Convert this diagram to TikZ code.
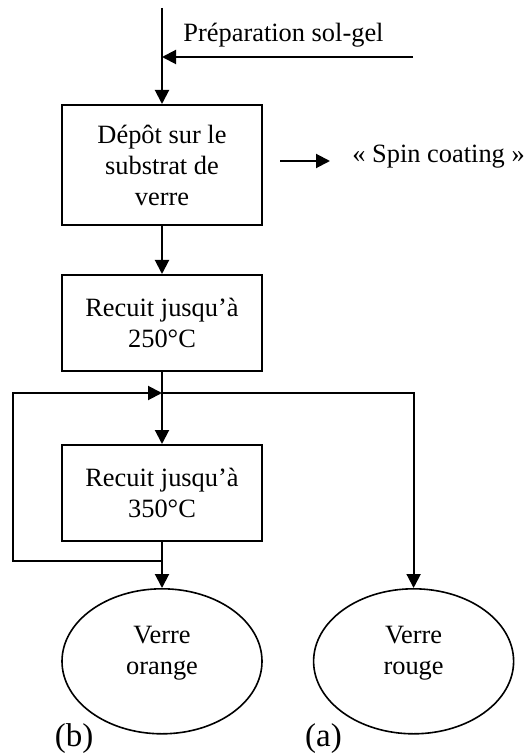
\documentclass[tikz,border=0pt]{standalone}
\usepackage{fontspec}
\setmainfont{Liberation Serif}
\usepackage{tikz}
\usetikzlibrary{arrows.meta,positioning,shapes.geometric}
\tikzset{
  fc box/.style={
    rectangle,
    minimum width=100pt,
    minimum height=48pt,
    line width=1pt,
    draw=black,
    align=center,
    inner sep=2pt,
    font=\fontsize{13.2}{15.5}\selectfont,
  },
  fc end/.style={
    ellipse,
    minimum width=100pt,
    minimum height=72.5pt,
    inner sep=0pt,
    line width=0.8pt,
    draw=black,
    align=center,
    font=\fontsize{13.2}{15.5}\selectfont,
  },
  fc text/.style={inner sep=0pt, font=\fontsize{13.2}{15.5}\selectfont},
  fc tag/.style={inner sep=0pt, anchor=base, font=\fontsize{16.5}{19}\selectfont},
  fc arrow/.style={-{Triangle[length=7pt,width=7pt]}, line width=1pt},
  fc line/.style={line width=1pt},
}
\begin{document}
\begin{tikzpicture}[x=0.5pt,y=-0.5pt,node distance=24pt and 25pt]
  \useasboundingbox (0,0) rectangle (526,753);
  \node[fc box,minimum height=60pt] (depot) at (162,165) {Dépôt sur le\\substrat de\\verre};
  \node[fc box,below=24pt of depot] (recuit1) {Recuit jusqu’à\\250°C};
  \node[fc box,below=36pt of recuit1] (recuit2) {Recuit jusqu’à\\350°C};
  \node[fc end,below=23pt of recuit2] (orange) {Verre\\orange\\[-4.5pt]\mbox{}};
  \node[fc end,right=25pt of orange] (rouge) {Verre\\rouge\\[-4.5pt]\mbox{}};

  \node[fc text,anchor=base west] (solgel) at (183,42) {Préparation sol-gel};
  \node[fc text,anchor=base west] (spin) at (352,163) {«~Spin coating~»};
  \node[fc tag] (tagb) at (74,746) {(b)};
  \node[fc tag] (taga) at (323.5,746) {(a)};

  \coordinate (top) at (162,8);
  \coordinate (solgel in) at (413,57);
  \coordinate (spin a) at (280,161);
  \coordinate (spin b) at (330,161);
  \coordinate (split) at (162,393);
  \coordinate (back) at (162,561);
  \coordinate (back left) at (13,561);

  \draw[fc arrow] (top) -- (depot);
  \draw[fc arrow] (solgel in) -- (solgel in -| depot);
  \draw[fc arrow] (spin a) -- (spin b);
  \draw[fc arrow] (depot) -- (recuit1);
  \draw[fc line] (recuit1) -- (split);
  \draw[fc arrow] (split) -- (recuit2);
  \draw[fc arrow] (split) -| (rouge);
  \draw[fc arrow] (recuit2) -- (orange);
  \draw[fc arrow] (back) -- (back left) |- (split);
\end{tikzpicture}
\end{document}
